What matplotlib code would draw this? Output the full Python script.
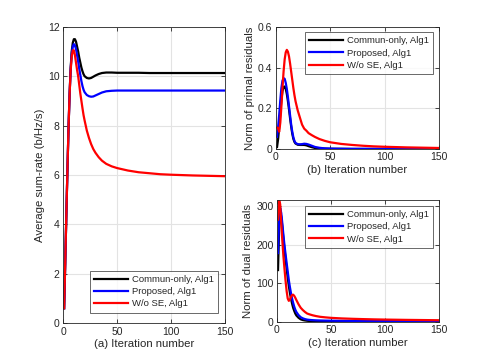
import matplotlib
matplotlib.use("Agg")
import matplotlib.pyplot as plt

plt.rcParams['font.family'] = ['Liberation Sans', 'DejaVu Sans']

# (a) average sum-rate
it_a = [1, 2, 3, 4, 5, 6, 7, 8, 9, 10, 11, 12, 13, 14, 15, 16, 17, 18, 19, 20,
        22, 24, 26, 28, 30, 33, 36, 40, 45, 50, 60, 70, 80, 90, 100, 120, 150]
rate_commun = [0.6, 2.4, 4.3, 6.1, 7.8, 9.2, 10.3, 11.0, 11.35, 11.5, 11.5, 11.4, 11.2, 11.0, 10.75,
               10.55, 10.35, 10.2, 10.08, 10.0, 9.93, 9.91, 9.93, 9.98, 10.03, 10.09, 10.13, 10.15,
               10.15, 10.14, 10.14, 10.14, 10.13, 10.13, 10.13, 10.13, 10.13]
rate_prop = [0.6, 2.4, 4.3, 6.1, 7.8, 9.2, 10.25, 10.9, 11.2, 11.3, 11.25, 11.1, 10.85, 10.6, 10.3,
             10.05, 9.8, 9.6, 9.45, 9.35, 9.24, 9.19, 9.17, 9.18, 9.22, 9.28, 9.34, 9.39,
             9.41, 9.42, 9.42, 9.42, 9.42, 9.42, 9.42, 9.42, 9.42]
rate_wose = [0.6, 2.4, 4.3, 6.1, 7.8, 9.2, 10.2, 10.8, 11.05, 11.05, 10.85, 10.55, 10.25, 10.0, 9.65,
             9.3, 9.0, 8.7, 8.42, 8.2, 7.8, 7.5, 7.25, 7.05, 6.9, 6.72, 6.58, 6.45,
             6.35, 6.28, 6.18, 6.11, 6.07, 6.03, 6.01, 5.98, 5.95]

# (b) primal residuals
it_b = [1, 2, 3, 4, 5, 6, 7, 8, 9, 10, 11, 12, 13, 14, 15, 16, 17, 18, 20, 22, 24, 26,
        28, 30, 33, 36, 40, 45, 50, 60, 70, 80, 90, 100, 120, 150]
primal_commun = [0.01, 0.05, 0.11, 0.18, 0.24, 0.285, 0.305, 0.307, 0.295, 0.27, 0.235, 0.195,
                 0.15, 0.11, 0.075, 0.05, 0.035, 0.027, 0.021, 0.02, 0.02, 0.02, 0.018, 0.014,
                 0.009, 0.005, 0.003, 0.002, 0.001, 0.001, 0.0, 0.0, 0.0, 0.0, 0.0, 0.0]
primal_prop = [0.06, 0.11, 0.17, 0.24, 0.3, 0.335, 0.348, 0.345, 0.325, 0.295, 0.255, 0.21,
               0.165, 0.12, 0.085, 0.058, 0.04, 0.03, 0.024, 0.023, 0.024, 0.026, 0.025, 0.022,
               0.016, 0.01, 0.006, 0.003, 0.002, 0.001, 0.001, 0.001, 0.001, 0.001, 0.001, 0.001]
primal_wose = [0.105, 0.1, 0.085, 0.13, 0.21, 0.3, 0.38, 0.44, 0.475, 0.487, 0.478, 0.455,
               0.42, 0.38, 0.34, 0.3, 0.265, 0.235, 0.19, 0.155, 0.12, 0.1, 0.09, 0.078,
               0.068, 0.059, 0.049, 0.04, 0.033, 0.025, 0.02, 0.016, 0.013, 0.011, 0.008, 0.005]

# (c) dual residuals
it_c = it_b
dual_commun = [134, 240, 288, 272, 245, 215, 188, 162, 138, 114, 93, 75, 60, 47, 36, 28, 21, 16,
               10, 6, 4, 3, 2.2, 1.8, 1.4, 1.1, 0.9, 0.7, 0.6, 0.5, 0.45, 0.4, 0.35, 0.35, 0.3, 0.3]
dual_prop = [178, 265, 296, 282, 255, 225, 198, 175, 152, 130, 108, 90, 74, 60, 49, 39, 31, 25,
             17, 11.5, 8.5, 6.5, 5.2, 4.5, 3.8, 3.3, 2.9, 2.6, 2.4, 2.1, 1.9, 1.7, 1.6, 1.5, 1.3, 1.1]
dual_wose = [265, 318, 305, 255, 210, 170, 137, 106, 79, 60, 54, 57, 64, 69, 70, 67, 62, 56,
             45, 36, 30, 25, 21, 19, 16.5, 14.5, 12.5, 11, 9.8, 8.3, 7.3, 6.5, 5.8, 5.3, 4.5, 3.6]

labels = ['Commun-only, Alg1', 'Proposed, Alg1', 'W/o SE, Alg1']
colors = ['black', 'blue', 'red']
txt = '#262626'


def style_axis(ax, xlabel, ylabel):
    ax.set_xlim(0, 150)
    ax.set_xticks([0, 50, 100, 150])
    ax.grid(True, color='#e3e3e3', linewidth=0.8)
    ax.set_axisbelow(True)
    ax.tick_params(direction='in', length=3, width=0.6, labelsize=7.5, colors=txt,
                   top=True, right=True, pad=2.5)
    for s in ax.spines.values():
        s.set_color('#262626')
        s.set_linewidth(0.6)
    ax.set_xlabel(xlabel, fontsize=8.2, color=txt, labelpad=2)
    ax.set_ylabel(ylabel, fontsize=8.2, color=txt, labelpad=2)


fig = plt.figure(figsize=(4.85, 3.63), dpi=100)
ax_a = fig.add_axes([0.130, 0.110, 0.334, 0.816])
ax_b = fig.add_axes([0.569, 0.5895, 0.336, 0.3365])
ax_c = fig.add_axes([0.571, 0.114, 0.334, 0.335])

for ys, c, lab in zip([rate_commun, rate_prop, rate_wose], colors, labels):
    ax_a.plot(it_a, ys, color=c, lw=1.6, label=lab)
for ys, c, lab in zip([primal_commun, primal_prop, primal_wose], colors, labels):
    ax_b.plot(it_b, ys, color=c, lw=1.6, label=lab)
for ys, c, lab in zip([dual_commun, dual_prop, dual_wose], colors, labels):
    ax_c.plot(it_c, ys, color=c, lw=1.6, label=lab)

style_axis(ax_a, '(a) Iteration number', 'Average sum-rate (b/Hz/s)')
ax_a.set_ylim(0, 12)
ax_a.set_yticks(range(0, 13, 2))

style_axis(ax_b, '(b) Iteration number', 'Norm of primal residuals')
ax_b.set_ylim(0, 0.6)
ax_b.set_yticks([0, 0.2, 0.4, 0.6])
ax_b.set_yticklabels(['0', '0.2', '0.4', '0.6'])

style_axis(ax_c, '(c) Iteration number', 'Norm of dual residuals')
ax_c.set_ylim(0, 316)
ax_c.set_yticks([0, 100, 200, 300])

leg_kw = dict(fontsize=6.8, frameon=True, fancybox=False, edgecolor='#262626',
              handlelength=3.6, handletextpad=0.4, borderpad=0.45, labelspacing=0.35,
              borderaxespad=0, bbox_transform=fig.transFigure)
for ax, loc, anchor in [(ax_a, 'lower right', (218 / 485, 1 - 312.7 / 363)),
                        (ax_b, 'upper right', (433 / 485, 1 - 32 / 363)),
                        (ax_c, 'upper right', (433 / 485, 1 - 205.7 / 363))]:
    leg = ax.legend(loc=loc, bbox_to_anchor=anchor, **leg_kw)
    leg.get_frame().set_linewidth(0.6)
    for t in leg.get_texts():
        t.set_color(txt)

fig.savefig('out.png', dpi=100)
